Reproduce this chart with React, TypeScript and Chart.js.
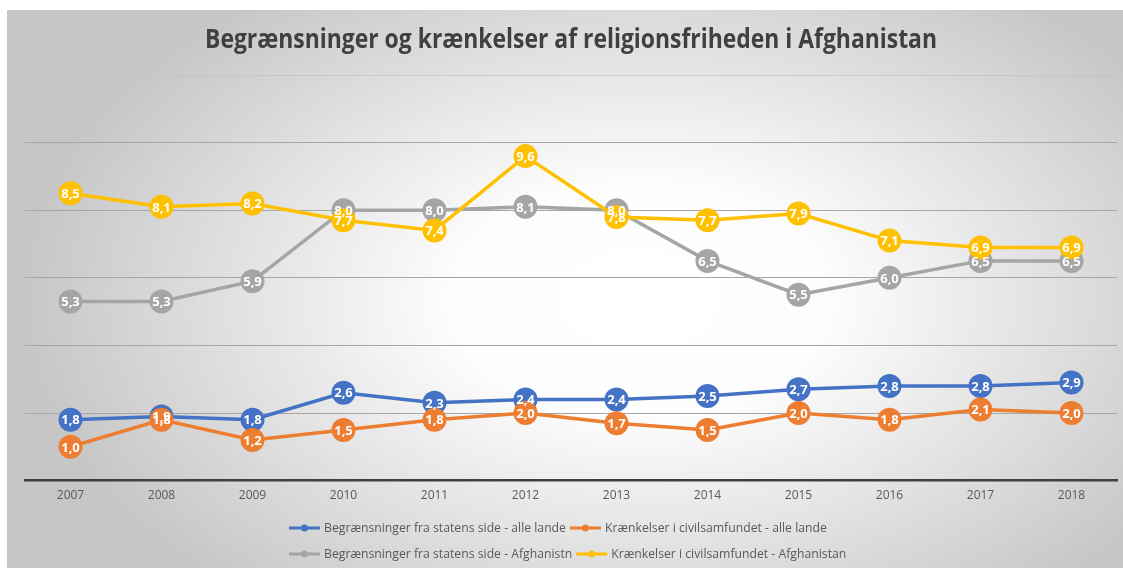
import React, { useEffect, useRef } from "react";
import { Chart, registerables } from "chart.js";

Chart.register(...registerables);

const chartTitle = "Begrænsninger og krænkelser af religionsfriheden i Afghanistan";
const years = ["2007", "2008", "2009", "2010", "2011", "2012", "2013", "2014", "2015", "2016", "2017", "2018"];
const stateAll = [1.8, 1.9, 1.8, 2.6, 2.3, 2.4, 2.4, 2.5, 2.7, 2.8, 2.8, 2.9];
const civilAll = [1.0, 1.8, 1.2, 1.5, 1.8, 2.0, 1.7, 1.5, 2.0, 1.8, 2.1, 2.0];
const stateAfg = [5.3, 5.3, 5.9, 8.0, 8.0, 8.1, 8.0, 6.5, 5.5, 6.0, 6.5, 6.5];
const civilAfg = [8.5, 8.1, 8.2, 7.7, 7.4, 9.6, 7.8, 7.7, 7.9, 7.1, 6.9, 6.9];
const seriesNames = [
  "Begrænsninger fra statens side - alle lande",
  "Krænkelser i civilsamfundet - alle lande",
  "Begrænsninger fra statens side - Afghanistn",
  "Krænkelser i civilsamfundet - Afghanistan",
];
const seriesColors = ["#4472C4", "#ED7D31", "#A5A5A5", "#FFC000"];
const yMin = 0;
const yMax = 12;
const yStep = 2;

const W = 1123;
const H = 568;

const bgPlugin = {
  id: "bg",
  beforeDraw(chart: any) {
    const ctx = chart.ctx as CanvasRenderingContext2D;
    ctx.save();
    ctx.fillStyle = "#ffffff";
    ctx.fillRect(0, 0, W, H);
    ctx.translate(640, 300);
    ctx.scale(1, 0.62);
    const g = ctx.createRadialGradient(0, 0, 0, 0, 0, 620);
    g.addColorStop(0, "#ffffff");
    g.addColorStop(0.3, "#fdfdfd");
    g.addColorStop(1, "#c6c6c6");
    ctx.fillStyle = g;
    ctx.fillRect(-640 + 7, (10 - 300) / 0.62, W, (H + 20) / 0.62);
    ctx.restore();
    // title
    ctx.save();
    ctx.fillStyle = "#404040";
    ctx.font = 'bold 26px "Open Sans"';
    ctx.textAlign = "center";
    ctx.textBaseline = "middle";
    ctx.fillText(chartTitle, 571, 41, 732);
    ctx.restore();
  },
};

const labelPlugin = {
  id: "labels",
  afterDatasetsDraw(chart: any) {
    const ctx = chart.ctx as CanvasRenderingContext2D;
    ctx.save();
    ctx.fillStyle = "#ffffff";
    ctx.font = 'bold 13px "Open Sans"';
    ctx.textAlign = "center";
    ctx.textBaseline = "middle";
    chart.data.datasets.forEach((ds: any, i: number) => {
      const meta = chart.getDatasetMeta(i);
      meta.data.forEach((pt: any, j: number) => {
        const txt = Number(ds.data[j]).toFixed(1).replace(".", ",");
        ctx.fillText(txt, pt.x, pt.y + 1, 19);
      });
    });
    ctx.restore();
  },
};

const legendPlugin = {
  id: "customLegend",
  afterDraw(chart: any) {
    const ctx = chart.ctx as CanvasRenderingContext2D;
    ctx.save();
    ctx.font = '13px "Open Sans"';
    ctx.textBaseline = "middle";
    ctx.fillStyle = "#595959";
    const rows = [
      { y: 528, items: [0, 1] },
      { y: 554, items: [2, 3] },
    ];
    const squeeze = 0.94;
    rows.forEach((row) => {
      let x = 289;
      row.items.forEach((i) => {
        const c = seriesColors[i];
        ctx.strokeStyle = c;
        ctx.lineWidth = 3;
        ctx.beginPath();
        ctx.moveTo(x, row.y);
        ctx.lineTo(x + 31, row.y);
        ctx.stroke();
        ctx.fillStyle = c;
        ctx.beginPath();
        ctx.arc(x + 15.5, row.y, 3.5, 0, Math.PI * 2);
        ctx.fill();
        x += 35;
        const name = seriesNames[i];
        const w = ctx.measureText(name).width * squeeze;
        ctx.fillStyle = "#595959";
        ctx.fillText(name, x, row.y, w);
        x += w + 4;
      });
    });
    ctx.restore();
  },
};

export default function App() {
  const ref = useRef<HTMLCanvasElement | null>(null);
  useEffect(() => {
    document.body.style.margin = "0";
    if (!ref.current) return;
    const all = [stateAll, civilAll, stateAfg, civilAfg];
    const chart = new Chart(ref.current, {
      type: "line",
      data: {
        labels: years,
        datasets: all.map((d, i) => ({
          label: seriesNames[i],
          data: d,
          borderColor: seriesColors[i],
          backgroundColor: seriesColors[i],
          pointBackgroundColor: seriesColors[i],
          pointBorderColor: seriesColors[i],
          pointBorderWidth: 0,
          pointRadius: 12,
          pointHoverRadius: 12,
          borderWidth: 3.5,
          tension: 0,
          order: 3 - i,
        })),
      },
      options: {
        responsive: false,
        animation: false,
        events: [],
        layout: { autoPadding: false, padding: { left: 25, right: 6, top: 75, bottom: 57 } },
        plugins: {
          legend: { display: false },
          title: { display: false },
          tooltip: { enabled: false },
        },
        scales: {
          x: {
            offset: true,
            grid: { display: false, drawTicks: false },
            border: { display: true, color: "#404040", width: 2.5 },
            ticks: {
              color: "#595959",
              font: { family: '"Open Sans"', size: 12 },
              padding: 8,
              maxRotation: 0,
            },
          },
          y: {
            min: yMin,
            max: yMax,
            ticks: { display: false, stepSize: yStep },
            border: { display: false },
            grid: {
              drawTicks: false,
              color: (ctx: any) =>
                ctx.tick && ctx.tick.value === yMax ? "rgba(190,190,190,0.6)" : "#a6a6a6",
              lineWidth: 1,
            },
          },
        },
      },
      plugins: [bgPlugin, labelPlugin, legendPlugin],
    });
    return () => chart.destroy();
  }, []);
  return (
    <div style={{ width: W, height: H }}>
      <canvas ref={ref} width={W} height={H} style={{ display: "block" }} />
    </div>
  );
}
